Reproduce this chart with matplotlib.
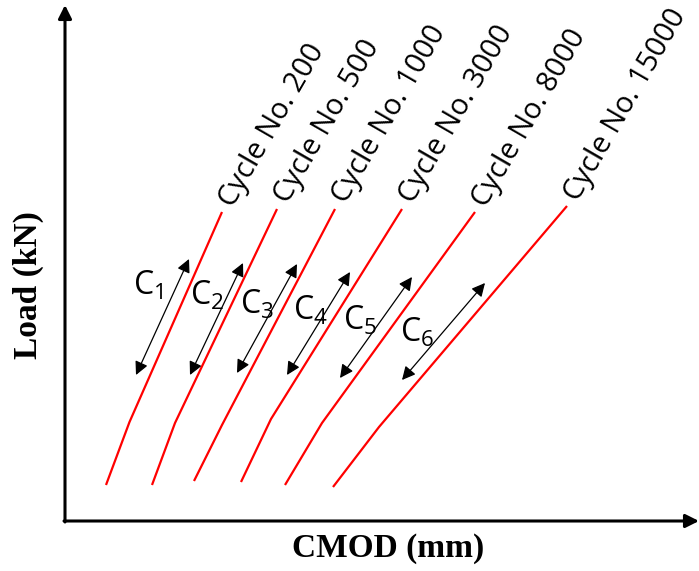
import matplotlib
matplotlib.use("Agg")
import matplotlib.pyplot as plt

# Data (CMOD / Load in arbitrary schematic units)
cycles = [200, 500, 1000, 3000, 8000, 15000]
cmod_pts = [
    [41, 64.5, 157],
    [87, 110, 212],
    [129, 157, 270],
    [176, 206, 337],
    [220, 257, 410],
    [268, 314, 502],
]
load_pts = [
    [36, 99, 309],
    [36, 98, 312],
    [40, 96, 312],
    [39, 102, 312],
    [36, 98, 309],
    [34, 94, 315],
]
# compliance arrows: (x_top, y_top, x_bottom, y_bottom)
c_arrow_top_x = [124, 178, 232, 285, 347, 420]
c_arrow_top_y = [262, 258, 257, 249, 244, 238]
c_arrow_bot_x = [71, 125, 172, 222, 275, 337]
c_arrow_bot_y = [146, 146, 148, 146, 143, 141]
c_label_x = [68, 125, 175, 228, 278, 335]
c_label_y = [235, 225, 216, 210, 200, 188]

fig = plt.figure(figsize=(6.99, 5.71), dpi=100)
ax = fig.add_axes([0, 0, 1, 1])
ax.set_xlim(-65, 634)
ax.set_ylim(-50, 521)
ax.axis('off')

# axes with arrows
ax.annotate('', xy=(0, 516), xytext=(0, -1),
            arrowprops=dict(arrowstyle='-|>', lw=2.2, color='black',
                            mutation_scale=20, shrinkA=0, shrinkB=0))
ax.annotate('', xy=(634, 0), xytext=(-1, 0),
            arrowprops=dict(arrowstyle='-|>', lw=2.2, color='black',
                            mutation_scale=20, shrinkA=0, shrinkB=0))

# curves
for i, c in enumerate(cycles):
    xs, ys = cmod_pts[i], load_pts[i]
    ax.plot(xs, ys, color='red', lw=1.6, solid_capstyle='butt')
    ax.text(xs[-1] + 11, ys[-1] + 4, f'Cycle No. {c}', rotation=60,
            rotation_mode='anchor', ha='left', va='baseline',
            fontsize=21, family='Open Sans', color='black')

# compliance arrows and labels
for i in range(len(cycles)):
    ax.annotate('', xy=(c_arrow_top_x[i], c_arrow_top_y[i]),
                xytext=(c_arrow_bot_x[i], c_arrow_bot_y[i]),
                arrowprops=dict(arrowstyle='<|-|>', lw=0.9, color='black',
                                mutation_scale=20, shrinkA=0, shrinkB=0))
    ax.text(c_label_x[i], c_label_y[i], r'$\mathregular{C_{%d}}$' % (i + 1),
            ha='left', va='center', fontsize=23, family='Open Sans', color='black')

ax.text(323, -27, 'CMOD (mm)', ha='center', va='center', fontsize=24,
        family='Liberation Serif', fontweight='bold')
ax.text(-37, 236, 'Load (kN)', ha='center', va='center', rotation=90,
        fontsize=24, family='Liberation Serif', fontweight='bold')

fig.savefig('out.png', dpi=100)
